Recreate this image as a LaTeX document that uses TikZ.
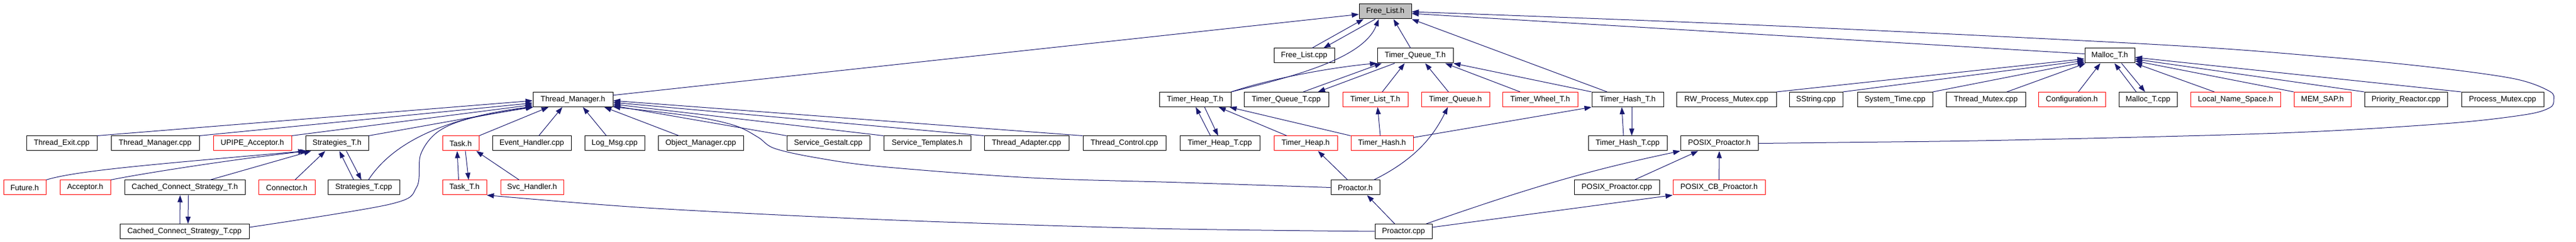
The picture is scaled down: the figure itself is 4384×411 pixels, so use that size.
\documentclass[tikz,border=0pt]{standalone}
\usepackage{fontspec}
\setmainfont{Liberation Sans}
\usetikzlibrary{arrows.meta,calc}
\definecolor{edgec}{HTML}{191970}
\definecolor{redb}{HTML}{FF0000}
\definecolor{grayf}{HTML}{BFBFBF}
\tikzset{
 fb/.style={draw=black, line width=1pt, rectangle, minimum height=25pt, inner sep=0pt, font=\fontsize{13}{15}\selectfont, fill=white},
 rb/.style={fb, draw=redb},
 e/.style={draw=edgec, line width=1pt, -{Triangle[length=12pt,width=8.5pt]}},
}
\begin{document}
\begin{tikzpicture}[x=1pt,y=-1pt]
\fill[white] (0,0) rectangle (4384,411);
\useasboundingbox (0,0) rectangle (4384,411);
% row 0
\node[fb, minimum width=89pt, fill=grayf] (FL) at (2357.5,19.5) {Free\_List.h};
% row 1
\node[fb, minimum width=103pt] (FLcpp) at (2219.5,94.5) {Free\_List.cpp};
\node[fb, minimum width=129pt] (TQTh) at (2408.5,94.5) {Timer\_Queue\_T.h};
\node[fb, minimum width=85pt] (MTh) at (3590.5,94.5) {Malloc\_T.h};
% row 2
\node[fb, minimum width=136pt] (TMh) at (975,169) {Thread\_Manager.h};
\node[fb, minimum width=122pt] (THTh) at (2034,169) {Timer\_Heap\_T.h};
\node[fb, minimum width=144pt] (TQTcpp) at (2189,169) {Timer\_Queue\_T.cpp};
\node[rb, minimum width=111pt] (TLTh) at (2340.5,169) {Timer\_List\_T.h};
\node[rb, minimum width=116pt] (TQh) at (2477,169) {Timer\_Queue.h};
\node[rb, minimum width=128pt] (TWTh) at (2621,169) {Timer\_Wheel\_T.h};
\node[fb, minimum width=122pt] (THashTh) at (2770,169) {Timer\_Hash\_T.h};
\node[fb, minimum width=170pt] (RWPM) at (2938,169) {RW\_Process\_Mutex.cpp};
\node[fb, minimum width=91pt] (SS) at (3090.5,169) {SString.cpp};
\node[fb, minimum width=128pt] (ST) at (3225,169) {System\_Time.cpp};
\node[fb, minimum width=135pt] (TMx) at (3379.5,169) {Thread\_Mutex.cpp};
\node[rb, minimum width=114pt] (Conf) at (3526,169) {Configuration.h};
\node[fb, minimum width=99pt] (MTcpp) at (3655.5,169) {Malloc\_T.cpp};
\node[rb, minimum width=153pt] (LNS) at (3804.5,169) {Local\_Name\_Space.h};
\node[rb, minimum width=97pt] (MEM) at (3952.5,169) {MEM\_SAP.h};
\node[fb, minimum width=141pt] (PR) at (4094.5,169) {Priority\_Reactor.cpp};
\node[fb, minimum width=140pt] (PM) at (4259,169) {Process\_Mutex.cpp};
% row 3
\node[fb, minimum width=120pt] (TE) at (105,243.5) {Thread\_Exit.cpp};
\node[fb, minimum width=150pt] (TMcpp) at (264,243.5) {Thread\_Manager.cpp};
\node[rb, minimum width=133pt] (UPIPE) at (429.5,243.5) {UPIPE\_Acceptor.h};
\node[fb, minimum width=107pt] (STh) at (573.5,243.5) {Strategies\_T.h};
\node[rb, minimum width=62pt] (Taskh) at (784,243.5) {Task.h};
\node[fb, minimum width=134pt] (EH) at (905,243.5) {Event\_Handler.cpp};
\node[fb, minimum width=102pt] (LM) at (1046,243.5) {Log\_Msg.cpp};
\node[fb, minimum width=145pt] (OM) at (1192.5,243.5) {Object\_Manager.cpp};
\node[fb, minimum width=141pt] (SG) at (1409.5,243.5) {Service\_Gestalt.cpp};
\node[fb, minimum width=148pt] (STmpl) at (1578,243.5) {Service\_Templates.h};
\node[fb, minimum width=144pt] (TA) at (1747,243.5) {Thread\_Adapter.cpp};
\node[fb, minimum width=141pt] (TC) at (1913.5,243.5) {Thread\_Control.cpp};
\node[fb, minimum width=136pt] (THTcpp) at (2076,243.5) {Timer\_Heap\_T.cpp};
\node[rb, minimum width=108pt] (THeaph) at (2222,243.5) {Timer\_Heap.h};
\node[rb, minimum width=106pt] (THashh) at (2352,243.5) {Timer\_Hash.h};
\node[fb, minimum width=134pt] (THashTcpp) at (2770,243.5) {Timer\_Hash\_T.cpp};
\node[fb, minimum width=132pt] (PPh) at (2926,243.5) {POSIX\_Proactor.h};
% row 4
\node[rb, minimum width=72pt] (Fut) at (42,318.5) {Future.h};
\node[rb, minimum width=86pt] (Acc) at (145,318.5) {Acceptor.h};
\node[fb, minimum width=205pt] (CCSTh) at (314.5,318.5) {Cached\_Connect\_Strategy\_T.h};
\node[rb, minimum width=96pt] (Conn) at (488,318.5) {Connector.h};
\node[fb, minimum width=122pt] (STcpp) at (619,318.5) {Strategies\_T.cpp};
\node[rb, minimum width=75pt] (TaskT) at (790.5,318.5) {Task\_T.h};
\node[rb, minimum width=107pt] (Svc) at (905.5,318.5) {Svc\_Handler.h};
\node[fb, minimum width=83pt] (Ph) at (2306.5,318.5) {Proactor.h};
\node[fb, minimum width=145pt] (PPcpp) at (2751.5,318.5) {POSIX\_Proactor.cpp};
\node[rb, minimum width=157pt] (PCB) at (2925.5,318.5) {POSIX\_CB\_Proactor.h};
% row 5
\node[fb, minimum width=220pt] (CCSTcpp) at (314,393) {Cached\_Connect\_Strategy\_T.cpp};
\node[fb, minimum width=97pt] (Pcpp) at (2388.5,393) {Proactor.cpp};

% ---- edges into Free_List.h
\draw[e] (TMh) -- (FL);
\draw[e] ($(FLcpp.north)+(13.5,0)$) -- ($(FL.south)+(-37,0)$);
\draw[e] ($(FL.south)+(-17,0)$) -- ($(FLcpp.north)+(33,0)$);
\draw[e] (THTh.north east) .. controls (2200,130) and (2320,100) .. ($(FL.south)+(-11,0)$);
\draw[e] ($(TQTh.north)+(-8,0)$) -- ($(FL.south)+(14,0)$);
\draw[e] ($(THashTh.north)+(-35,0)$) -- (FL.south east);
\draw[e] ($(MTh.west)+(0,-3)$) -- ($(FL.east)+(0,3.5)$);
\coordinate (flin) at ($(FL.east)+(0,0.5)$);
\draw[e] plot[smooth, tension=0.55] coordinates {(PPh.east) (3128,242) (3418,238) (3880,226) (4160,210) (4296,195) (4339,183) (4346,170) (4339,155) (4280,134) (4145,115) (3962,97) (3676,76) (3000,43) (flin)};

% ---- edges into Timer_Queue_T.h
\draw[e] (THTh.north east) .. controls (2180,128) and (2290,112) .. (TQTh.south west);
\draw[e] ($(TQTcpp.north)+(29,0)$) -- ($(TQTh.south west)+(8,0)$);
\draw[e] ($(TQTh.south west)+(30,0)$) -- ($(TQTcpp.north)+(54,0)$);
\draw[e] ($(TLTh.north)+(12,0)$) -- ($(TQTh.south)+(-18,0)$);
\draw[e] ($(TQh.north)+(-12,0)$) -- ($(TQTh.south)+(17,0)$);
\draw[e] ($(TWTh.north)+(-34,0)$) -- ($(TQTh.south east)+(-14,0)$);
\draw[e] (THashTh.north west) -- (TQTh.south east);

% ---- Timer heap / hash
\draw[e] ($(THTcpp.north)+(-16,0)$) -- ($(THTh.south)+(1,0)$);
\draw[e] ($(THTh.south)+(16,0)$) -- ($(THTcpp.north)+(-3,0)$);
\draw[e] ($(THeaph.north)+(-32,0)$) -- ($(THTh.south)+(40,0)$);
\draw[e] (THashh.north west) -- ($(THTh.south east)+(-3,0)$);
\draw[e] ($(THashh.north)+(-3,0)$) -- ($(TLTh.south)+(4,0)$);
\draw[e] ($(THashh.north east)+(0,3)$) -- (THashTh.south west);
\draw[e] ($(THashTcpp.north)+(-7,0)$) -- ($(THashTh.south)+(-10,0)$);
\draw[e] ($(THashTh.south)+(7,0)$) -- ($(THashTcpp.north)+(7,0)$);

% ---- edges into Thread_Manager.h
\draw[e] (TE.north east) -- ($(TMh.west)+(0,2)$);
\draw[e] (TMcpp.north east) -- ($(TMh.west)+(0,6)$);
\draw[e] (UPIPE.north east) -- ($(TMh.west)+(0,9)$);
\draw[e] (STh.north east) -- ($(TMh.west)+(0,12)$);
\draw[e] ($(STcpp.north)+(8,0)$) .. controls (670,240) and (760,200) .. ($(TMh.south west)+(0,-1)$);
\coordinate (ccs) at ($(CCSTcpp.east)+(0,-7)$);
\coordinate (tmsw) at ($(TMh.south west)+(1,0)$);
\draw[e] plot[smooth, tension=0.55] coordinates {(ccs) (663,347) (709,318) (716,262) (745,224) (800,201) (tmsw)};
\draw[e] (Taskh.north east) -- ($(TMh.south west)+(27,0)$);
\draw[e] ($(EH.north)+(12,0)$) -- ($(TMh.south)+(-18,0)$);
\draw[e] ($(LM.north)+(-14,0)$) -- ($(TMh.south)+(17,0)$);
\draw[e] ($(OM.north)+(-37,0)$) -- ($(TMh.south east)+(-15,0)$);
\draw[e] (SG.north west) -- ($(TMh.east)+(0,10.5)$);
\draw[e] (STmpl.north west) -- ($(TMh.east)+(0,8)$);
\draw[e] (TA.north west) -- ($(TMh.east)+(0,5)$);
\draw[e] (TC.north west) -- ($(TMh.east)+(0,2)$);
\coordinate (tmse) at ($(TMh.south east)+(0,-0.5)$);
\draw[e] plot[smooth, tension=0.55] coordinates {(Ph.west) (2010,310) (1755,302) (1500,283) (1390,268) (1318,252) (1290,233) (1250,213) (1175,197) (tmse)};

% ---- Task
\draw[e] ($(TaskT.north)+(-10,0)$) -- ($(Taskh.south)+(-6,0)$);
\draw[e] ($(Taskh.south)+(8,0)$) -- ($(TaskT.north)+(7,0)$);
\draw[e] ($(Svc.north)+(-22,0)$) -- ($(Taskh.south east)+(-5,0)$);
\draw[e] plot[smooth, tension=0.5] coordinates {(Pcpp.west) (1959,388) (1500,373) (1100,353) (TaskT.south east)};

% ---- Strategies
\draw[e] (Fut.north east) .. controls (130,290) and (250,280) .. (STh.south west);
\draw[e] (Acc.north east) .. controls (240,295) and (400,270) .. ($(STh.south west)+(4,0)$);
\draw[e] ($(CCSTh.north)+(43,0)$) -- ($(STh.south west)+(10,0)$);
\draw[e] ($(Conn.north)+(14,0)$) -- ($(STh.south)+(-20,0)$);
\draw[e] ($(STcpp.north)+(-17,0)$) -- ($(STh.south)+(4,0)$);
\draw[e] ($(STh.south)+(16,0)$) -- ($(STcpp.north)+(-4,0)$);
\draw[e] ($(CCSTcpp.north)+(-8,0)$) -- ($(CCSTh.south)+(-8,0)$);
\draw[e] ($(CCSTh.south)+(6,0)$) -- ($(CCSTcpp.north)+(6,0)$);

% ---- Proactor
\draw[e] ($(Ph.north)+(-13,0)$) -- ($(THeaph.south)+(21,0)$);
\draw[e] ($(Ph.north)+(31.5,0)$) .. controls (2410,270) and (2440,230) .. ($(TQh.south)+(-13,0)$);
\draw[e] ($(Pcpp.north)+(-15,0)$) -- ($(Ph.south)+(20,0)$);
\draw[e] ($(Pcpp.north east)+(-10,0)$) .. controls (2600,320) and (2700,290) .. (PPh.south west);
\draw[e] ($(Pcpp.east)+(0,-7)$) -- (PCB.south west);
\draw[e] ($(PPcpp.north)+(30,0)$) -- ($(PPh.south)+(-36,0)$);
\draw[e] (PCB) -- (PPh);

% ---- Malloc_T.h
\draw[e] (RWPM.north east) -- ($(MTh.west)+(0,5.5)$);
\draw[e] (SS.north east) -- ($(MTh.west)+(0,8.5)$);
\draw[e] (ST.north east) -- ($(MTh.west)+(0,11)$);
\draw[e] ($(TMx.north)+(36,0)$) -- ($(MTh.south west)+(2,0)$);
\draw[e] ($(Conf.north)+(11,0)$) -- ($(MTh.south)+(-16,0)$);
\draw[e] ($(MTcpp.north)+(-20,0)$) -- ($(MTh.south)+(8,0)$);
\draw[e] ($(MTh.south)+(20,0)$) -- ($(MTcpp.north)+(-5,0)$);
\draw[e] ($(LNS.north)+(-36,0)$) -- (MTh.south east);
\draw[e] (MEM.north west) -- ($(MTh.east)+(0,9)$);
\draw[e] (PR.north west) -- ($(MTh.east)+(0,6)$);
\draw[e] (PM.north west) -- ($(MTh.east)+(0,3)$);
\end{tikzpicture}
\end{document}
